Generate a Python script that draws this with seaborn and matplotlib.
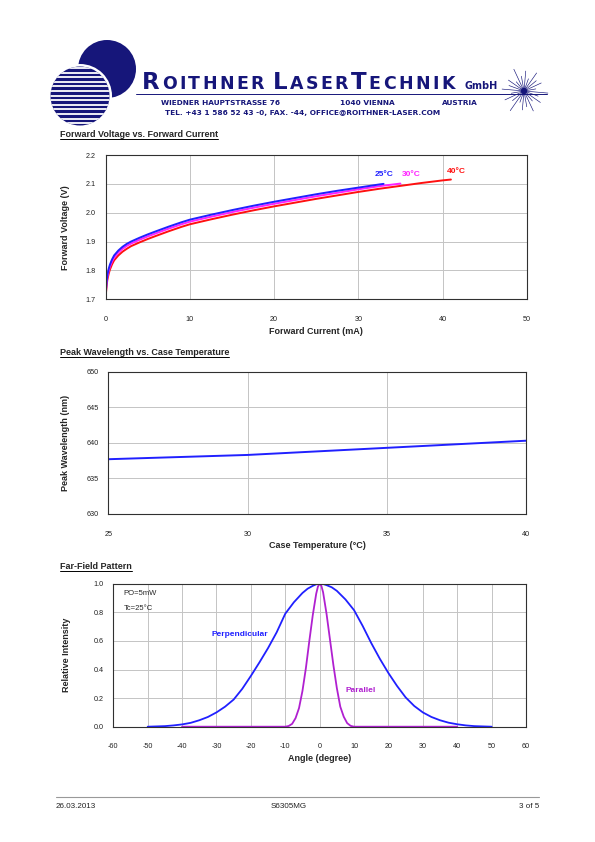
import matplotlib.pyplot as plt
import matplotlib.patches as mpatches
import seaborn as sns
import numpy as np

sns.set_style("white")
plt.rcParams['font.family'] = ['Liberation Sans', 'DejaVu Sans']
plt.rcParams['axes.unicode_minus'] = False

NAVY = '#16167a'

# --- Forward voltage vs forward current
if_25 = [0, 0.1, 0.2, 0.35, 0.5, 0.75, 1, 1.5, 2, 2.5, 3, 4, 5, 6, 7.5, 9, 10, 12.5, 15, 17.5,
         20, 22.5, 25, 27.5, 30, 32.5, 33]
vf_25 = [1.72, 1.76, 1.785, 1.805, 1.82, 1.838, 1.852, 1.869, 1.882, 1.892, 1.900, 1.913, 1.925,
         1.936, 1.952, 1.967, 1.976, 1.993, 2.009, 2.024, 2.038, 2.051, 2.064, 2.076, 2.087, 2.098, 2.100]
if_30 = [0, 0.1, 0.2, 0.35, 0.5, 0.75, 1, 1.5, 2, 2.5, 3, 4, 5, 6, 7.5, 9, 10, 12.5, 15, 17.5,
         20, 22.5, 25, 27.5, 30, 32.5, 35]
vf_30 = [1.715, 1.753, 1.778, 1.798, 1.813, 1.831, 1.845, 1.862, 1.875, 1.885, 1.893, 1.906, 1.918,
         1.929, 1.945, 1.960, 1.969, 1.986, 2.002, 2.017, 2.031, 2.044, 2.057, 2.069, 2.081, 2.092, 2.101]
if_40 = [0, 0.1, 0.2, 0.35, 0.5, 0.75, 1, 1.5, 2, 2.5, 3, 4, 5, 6, 7.5, 9, 10, 12.5, 15, 17.5,
         20, 22.5, 25, 27.5, 30, 32.5, 35, 37.5, 40, 41]
vf_40 = [1.71, 1.745, 1.768, 1.788, 1.803, 1.821, 1.835, 1.852, 1.865, 1.875, 1.884, 1.897, 1.909,
         1.920, 1.936, 1.951, 1.960, 1.977, 1.993, 2.008, 2.022, 2.035, 2.048, 2.060, 2.072, 2.083,
         2.093, 2.103, 2.112, 2.115]

# --- Peak wavelength vs case temperature
case_temp = [25, 30, 35, 40]
peak_wl = [637.7, 638.3, 639.3, 640.3]

# --- Far-field pattern
perp_angle = [-50, -47.5, -45, -42.5, -40, -37.5, -35, -32.5, -30, -27.5, -25, -22.5, -20,
              -17.5, -15, -12.5, -10, -7.5, -5, -3.5, -2, -1, 0, 1, 2, 3.5, 5, 7.5, 10, 12.5, 15, 17.5,
              20, 22.5, 25, 27.5, 30, 32.5, 35, 37.5, 40, 42.5, 45, 47.5, 50]
perp_int = [0.0, 0.002, 0.004, 0.009, 0.016, 0.027, 0.045, 0.068, 0.10, 0.14, 0.19, 0.265, 0.355,
            0.45, 0.55, 0.66, 0.79, 0.87, 0.935, 0.965, 0.985, 0.996, 1.0, 0.998, 0.99, 0.975, 0.95,
            0.89, 0.815, 0.705, 0.585, 0.475,
            0.375, 0.285, 0.205, 0.145, 0.10, 0.068, 0.045, 0.028, 0.017, 0.009, 0.004, 0.002, 0.0]
par_angle = [-40, -10, -9, -8, -7, -6, -5, -4, -3, -2, -1, -0.5, 0, 0.5, 1, 2, 3, 4, 5, 6, 7, 8, 9, 10, 40]
par_int = [0.0, 0.0, 0.005, 0.02, 0.06, 0.13, 0.25, 0.41, 0.60, 0.78, 0.93, 0.98, 1.0, 0.985, 0.94, 0.79,
           0.61, 0.43, 0.27, 0.14, 0.07, 0.025, 0.006, 0.0, 0.0]

fig = plt.figure(figsize=(5.95, 8.42), dpi=100)

# page layer in pixel coordinates for header, titles and footer
page = fig.add_axes([0, 0, 1, 1], zorder=-1)
page.set_xlim(0, 595)
page.set_ylim(842, 0)
page.axis('off')


def px_axes(left, top, right, bottom):
    return fig.add_axes([left / 595, 1 - bottom / 842, (right - left) / 595, (bottom - top) / 842])


def style_axes(ax, xticks, yticks, xlabel, ylabel, ylab_x, yfmt):
    ax.set_xticks(xticks)
    ax.set_yticks(yticks)
    ax.set_xlim(xticks[0], xticks[-1])
    ax.set_ylim(yticks[0], yticks[-1])
    ax.set_yticklabels([yfmt.format(v) for v in yticks])
    ax.grid(True, color='#c4c4c4', lw=0.7)
    for s in ax.spines.values():
        s.set_color('#303030')
        s.set_linewidth(0.8)
    ax.tick_params(direction='out', length=3, width=0.6, color='#333333', labelsize=5.2, labelcolor='#222222')
    ax.tick_params(axis='x', pad=9)
    ax.tick_params(axis='y', pad=4)
    ax.set_xlabel(xlabel, fontsize=6.5, fontweight='bold')
    ax.set_ylabel(ylabel, fontsize=6.5, fontweight='bold')
    ax.xaxis.set_label_coords(0.5, -0.19)
    ax.yaxis.set_label_coords(ylab_x, 0.5)


# Chart 1
ax1 = px_axes(105.7, 155, 526.7, 299.3)
sns.lineplot(x=if_40, y=vf_40, ax=ax1, color='#ff1010', lw=1.4, sort=False)
sns.lineplot(x=if_30, y=vf_30, ax=ax1, color='#ff20ff', lw=1.4, sort=False)
sns.lineplot(x=if_25, y=vf_25, ax=ax1, color='#2020ff', lw=1.4, sort=False)
style_axes(ax1, [0, 10, 20, 30, 40, 50], [1.7, 1.8, 1.9, 2.0, 2.1, 2.2],
           'Forward Current (mA)', 'Forward Voltage (V)', -0.085, '{:.1f}')
ax1.text(32, 2.131, '25°C', color='#2020ff', fontsize=6, fontweight='bold', va='center')
ax1.text(35.2, 2.131, '30°C', color='#ff20ff', fontsize=6, fontweight='bold', va='center')
ax1.text(40.5, 2.142, '40°C', color='#ff1010', fontsize=6, fontweight='bold', va='center')

# Chart 2
ax2 = px_axes(108.3, 371.7, 526, 514)
sns.lineplot(x=case_temp, y=peak_wl, ax=ax2, color='#2020ff', lw=1.4)
style_axes(ax2, [25, 30, 35, 40], [630, 635, 640, 645, 650],
           'Case Temperature (°C)', 'Peak Wavelength (nm)', -0.092, '{:.0f}')

# Chart 3
ax3 = px_axes(113.3, 583.7, 526, 726.7)
sns.lineplot(x=perp_angle, y=perp_int, ax=ax3, color='#2020ff', lw=1.3)
sns.lineplot(x=par_angle, y=par_int, ax=ax3, color='#b020d0', lw=1.3)
style_axes(ax3, list(range(-60, 61, 10)), [0.0, 0.2, 0.4, 0.6, 0.8, 1.0],
           'Angle (degree)', 'Relative Intensity', -0.1025, '{:.1f}')
ax3.text(-57, 0.93, 'PO=5mW', fontsize=5.5, va='center')
ax3.text(-57, 0.83, 'Tc=25°C', fontsize=5.5, va='center')
ax3.text(-31.4, 0.645, 'Perpendicular', color='#2020ff', fontsize=6, fontweight='bold', va='center')
ax3.text(7.6, 0.256, 'Parallel', color='#b020d0', fontsize=6, fontweight='bold', va='center')

# ---- header logo
page.add_patch(mpatches.Circle((107, 69), 29, color=NAVY, lw=0))
page.add_patch(mpatches.Circle((80, 96), 32, color='white', lw=0))
striped = mpatches.Circle((80, 96), 29.5, color=NAVY, lw=0)
page.add_patch(striped)
for yy in np.arange(68, 126, 4.6):
    ln, = page.plot([40, 120], [yy, yy], color='white', lw=1.3, solid_capstyle='butt')
    ln.set_clip_path(striped)

renderer = fig.canvas.get_renderer()
x = 142
for word in [[('R', 16.5), ('OITHNER', 12.5)], [('L', 16.5), ('ASER', 12.5), ('T', 16.5), ('ECHNIK', 12.5)]]:
    for seg, size in word:
        for ch in seg:
            t = page.text(x, 89, ch, fontsize=size, fontweight='bold', color=NAVY,
                          family='DejaVu Sans', va='baseline', ha='left')
            x += t.get_window_extent(renderer).width + 2.4
    x += 6
page.text(x + 2, 89, 'GmbH', fontsize=7, fontweight='bold', color=NAVY, family='DejaVu Sans', va='baseline')
page.plot([136, 547], [93.5, 93.5], color=NAVY, lw=0.7)
page.text(161, 103, 'WIEDNER HAUPTSTRASSE 76', fontsize=5.3, fontweight='bold', color=NAVY,
          family='DejaVu Sans', va='center')
page.text(340, 103, '1040 VIENNA', fontsize=5.3, fontweight='bold', color=NAVY, family='DejaVu Sans', va='center')
page.text(442, 103, 'AUSTRIA', fontsize=5.3, fontweight='bold', color=NAVY, family='DejaVu Sans', va='center')
page.text(165, 112.5, 'TEL. +43 1 586 52 43 -0, FAX. -44, OFFICE@ROITHNER-LASER.COM', fontsize=5.3,
          fontweight='bold', color=NAVY, family='DejaVu Sans', va='center')

# star burst
cx, cy = 524, 91
ray_len = [24, 15, 20, 13, 22, 16, 19, 12, 24, 15, 21, 13, 22, 16, 19, 12,
           24, 15, 20, 13, 22, 16, 19, 12]
for i, L in enumerate(ray_len):
    a = np.deg2rad(i * 15 + 5)
    page.plot([cx, cx + L * np.cos(a)], [cy, cy + L * np.sin(a)], color=NAVY, lw=0.45)
page.add_patch(mpatches.Circle((cx, cy), 3.2, color=NAVY, lw=0))

# ---- section titles (bold, underlined)
for ty, title in [(137, 'Forward Voltage vs. Forward Current'),
                  (355, 'Peak Wavelength vs. Case Temperature'),
                  (569, 'Far-Field Pattern')]:
    t = page.text(60, ty, title, fontsize=6.5, fontweight='bold', va='baseline')
    w = t.get_window_extent(renderer).width
    page.plot([60, 60 + w], [ty + 1.6, ty + 1.6], color='black', lw=0.7)

# ---- footer
page.plot([56, 539], [796.5, 796.5], color='#999999', lw=0.8)
page.text(56, 806, '26.03.2013', fontsize=5.8, va='center', color='#222222')
page.text(289, 806, 'S6305MG', fontsize=5.8, va='center', ha='center', color='#222222')
page.text(539, 806, '3 of 5', fontsize=5.8, va='center', ha='right', color='#222222')

fig.savefig('out.png', dpi=100)
plt.close()
